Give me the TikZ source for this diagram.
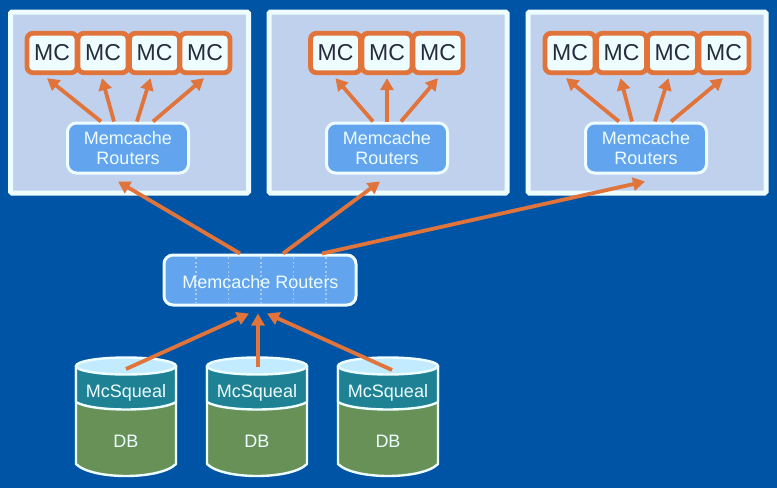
\documentclass[tikz,border=0pt]{standalone}
\usepackage{fontspec}
\setmainfont{Liberation Sans}
\usetikzlibrary{arrows.meta,shapes.geometric}
\definecolor{bgblue}{HTML}{0054A5}
\definecolor{panelfill}{HTML}{C0D1EE}
\definecolor{paleline}{HTML}{EEFDFF}
\definecolor{routerblue}{HTML}{62A4EE}
\definecolor{arrowor}{HTML}{E0743A}
\definecolor{mcink}{HTML}{262C3C}
\definecolor{cyltop}{HTML}{C2EBFF}
\definecolor{cylteal}{HTML}{1F8294}
\definecolor{cylgreen}{HTML}{689158}
\definecolor{dotline}{HTML}{A8C8F5}
\tikzset{
  x=1pt,y=-1pt,
  panelbox/.style={draw=paleline,line width=5pt,fill=panelfill,rounded corners=1.5pt,minimum width=238pt,minimum height=181pt,inner sep=0pt},
  mcbox/.style={draw=arrowor,line width=4.8pt,fill=paleline,rounded corners=6pt,minimum width=50pt,minimum height=39.5pt,inner sep=0pt,text=mcink,font=\fontsize{23}{24}\selectfont},
  routerbox/.style={draw=paleline,line width=3pt,fill=routerblue,rounded corners=9pt,minimum width=121pt,minimum height=50pt,inner sep=0pt,text=paleline,align=center,font=\fontsize{18}{20}\selectfont},
  bigrouter/.style={routerbox,minimum width=192pt},
  conn/.style={draw=arrowor,line width=3.8pt,-{Triangle[length=12pt,width=13pt]}},
  dots/.style={draw=dotline,line width=1.9pt,dash pattern=on 2pt off 2.5pt},
  cylline/.style={draw=paleline,line width=2.4pt,line join=round},
  cyllabel/.style={text=paleline,inner sep=0pt,font=\fontsize{18}{20}\selectfont},
  cyltopshape/.style={ellipse,draw=paleline,line width=2.4pt,fill=cyltop,minimum width=100pt,minimum height=17pt,inner sep=0pt}
}
\begin{document}
\begin{tikzpicture}
\useasboundingbox (0,0) rectangle (777,488);
\fill[bgblue] (0,0) rectangle (777,488);
% panels
\node[panelbox] (p1) at (129.5,102.5) {};
\node[panelbox] (p2) at (388,102.5) {};
\node[panelbox] (p3) at (647,102.5) {};
% panel 1
\node[mcbox] (a1) at (52,53) {MC};
\node[mcbox] (a2) at (103,53) {MC};
\node[mcbox] (a3) at (154.5,53) {MC};
\node[mcbox] (a4) at (205,53) {MC};
\node[routerbox] (r1) at (128,148) {Memcache\\Routers};
% panel 2
\node[mcbox] (b1) at (335.5,53) {MC};
\node[mcbox] (b2) at (387,53) {MC};
\node[mcbox] (b3) at (438,53) {MC};
\node[routerbox] (r2) at (387,148) {Memcache\\Routers};
% panel 3
\node[mcbox] (c1) at (570,53) {MC};
\node[mcbox] (c2) at (621.5,53) {MC};
\node[mcbox] (c3) at (672.5,53) {MC};
\node[mcbox] (c4) at (724,53) {MC};
\node[routerbox] (r3) at (646,148) {Memcache\\Routers};
% big router
\node[bigrouter] (big) at (260,280) {};
\foreach \xx in {196,228.5,261,293.5,326}
  \draw[dots] (\xx,257) -- (\xx,303);
\node[text=paleline,inner sep=0pt,font=\fontsize{18}{20}\selectfont] (bigtext) at (260.5,282.5) {Memcache Routers};
% cylinders
\foreach \sx/\nm in {0/d1,131/d2,262/d3}{
\begin{scope}[shift={(\sx,0)}]
  \path[cylline,fill=cylgreen] (76,366) -- (76,464) .. controls (92,480) and (160,480) .. (176,464) -- (176,366) -- cycle;
  \path[cylline,fill=cylteal] (76,366) -- (76,402) .. controls (92,412) and (160,412) .. (176,402) -- (176,366) -- cycle;
  \node[cyltopshape] (\nm) at (126,366) {};
  \node[cyllabel] (\nm m) at (126,392.5) {McSqueal};
  \node[cyllabel] (\nm b) at (126,441) {DB};
\end{scope}
}
% connectors in panels
\draw[conn] ([xshift=-27pt]r1.north) -- ([xshift=-5pt,yshift=-3pt]a1.south);
\draw[conn] ([xshift=-14pt]r1.north) -- ([xshift=-1pt,yshift=-3pt]a2.south);
\draw[conn] ([xshift=9pt]r1.north) -- ([xshift=-4pt,yshift=-3pt]a3.south);
\draw[conn] ([xshift=25pt]r1.north) -- ([xshift=-1pt,yshift=-3pt]a4.south);
\draw[conn] ([xshift=-14pt]r2.north) -- ([xshift=0pt,yshift=-3pt]b1.south);
\draw[conn] (r2.north) -- ([yshift=-3pt]b2.south);
\draw[conn] ([xshift=14pt]r2.north) -- ([xshift=0pt,yshift=-3pt]b3.south);
\draw[conn] ([xshift=-27pt]r3.north) -- ([xshift=-4pt,yshift=-3pt]c1.south);
\draw[conn] ([xshift=-14pt]r3.north) -- ([xshift=-1pt,yshift=-3pt]c2.south);
\draw[conn] ([xshift=9pt]r3.north) -- ([xshift=-4pt,yshift=-3pt]c3.south);
\draw[conn] ([xshift=25pt]r3.north) -- ([xshift=-1pt,yshift=-3pt]c4.south);
% connectors to big router
\draw[conn] ([xshift=-20pt]big.north) -- ([xshift=-10pt,yshift=-7pt]r1.south);
\draw[conn] ([xshift=23pt]big.north) -- ([xshift=-7pt,yshift=-7pt]r2.south);
\draw[conn] ([xshift=62pt]big.north) -- ([xshift=-1pt,yshift=-7pt]r3.south);
\draw[conn] ([xshift=0pt,yshift=-3pt]d1.center) -- ([xshift=-11pt,yshift=-7pt]big.south);
\draw[conn] ([xshift=1pt,yshift=-1pt]d2.center) -- ([xshift=-2pt,yshift=-7pt]big.south);
\draw[conn] ([xshift=4pt,yshift=-4pt]d3.center) -- ([xshift=7pt,yshift=-7pt]big.south);
\end{tikzpicture}
\end{document}
